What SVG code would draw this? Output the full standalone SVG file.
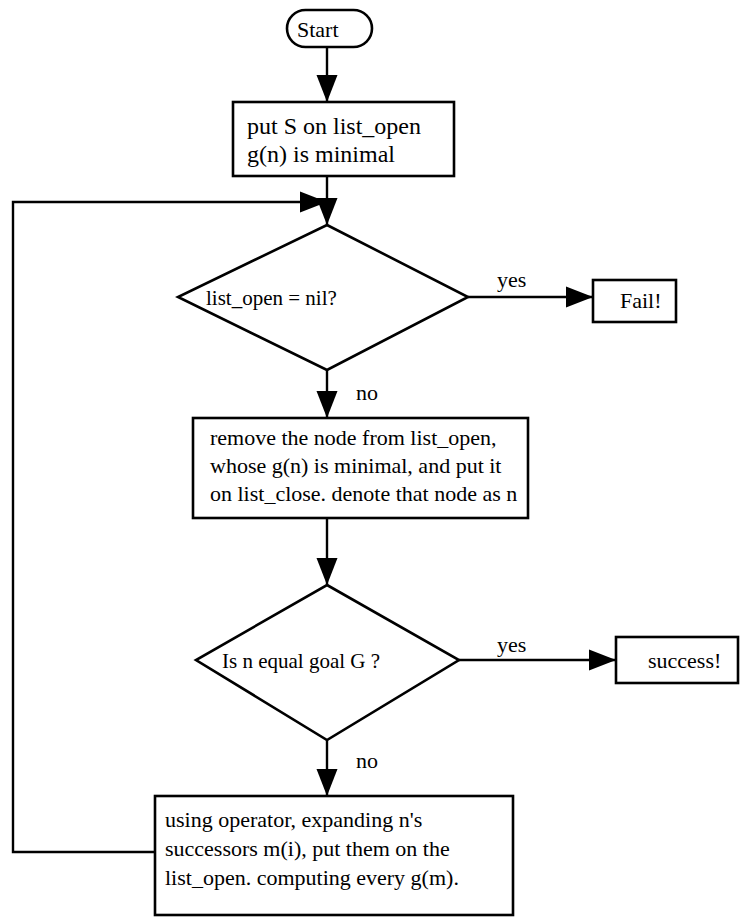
<svg xmlns="http://www.w3.org/2000/svg" width="753" height="923" viewBox="0 0 753 923">
<defs>
<style>
.shape{fill:#fff;stroke:#000;stroke-width:2.6}
.edge{fill:none;stroke:#000;stroke-width:2.4}
.t{font-family:"Liberation Serif","Times New Roman",serif;font-size:22px;fill:#000}
.big{font-size:24px}
.small{font-size:21px}
</style>
<marker id="arr" markerUnits="userSpaceOnUse" markerWidth="28" markerHeight="24" viewBox="0 0 28 24" refX="27" refY="12" orient="auto">
<path d="M0,1.5 L27,12 L0,22.5 Z" fill="#000"/>
</marker>
</defs>
<rect width="753" height="923" fill="#fff"/>
<g id="connectors">
<line class="edge" x1="327" y1="47" x2="327" y2="102" marker-end="url(#arr)"/>
<line class="edge" x1="327" y1="176" x2="327" y2="225" marker-end="url(#arr)"/>
<polyline class="edge" points="155,852 13,852 13,202 327,202" marker-end="url(#arr)"/>
<line class="edge" x1="468" y1="297" x2="593" y2="297" marker-end="url(#arr)"/>
<line class="edge" x1="327" y1="370" x2="327" y2="418" marker-end="url(#arr)"/>
<line class="edge" x1="327" y1="518" x2="327" y2="585" marker-end="url(#arr)"/>
<line class="edge" x1="459" y1="660" x2="616" y2="660" marker-end="url(#arr)"/>
<line class="edge" x1="327" y1="740" x2="327" y2="796" marker-end="url(#arr)"/>
<text class="t" x="497" y="287">yes</text>
<text class="t" x="356" y="400">no</text>
<text class="t" x="497" y="652">yes</text>
<text class="t" x="356" y="768">no</text>
</g>
<g id="start">
<rect class="shape" x="287" y="10" width="85" height="37" rx="18.5"/>
<text class="t" x="297" y="37">Start</text>
</g>
<g id="init">
<rect class="shape" x="233" y="102" width="221" height="74"/>
<text class="t big" x="247" y="134">put S on list_open</text>
<text class="t big" x="247" y="162">g(n) is minimal</text>
</g>
<g id="check-open">
<polygon class="shape" points="327,225 468,297 327,370 178,297"/>
<text class="t small" x="206" y="305">list_open = nil?</text>
</g>
<g id="fail">
<rect class="shape" x="593" y="280" width="83" height="42"/>
<text class="t" x="620" y="308">Fail!</text>
</g>
<g id="remove">
<rect class="shape" x="193" y="418" width="335" height="100"/>
<text class="t" x="210" y="445">remove the node from list_open,</text>
<text class="t" x="210" y="473">whose g(n) is minimal, and put it</text>
<text class="t" x="210" y="501">on list_close. denote that node as n</text>
</g>
<g id="check-goal">
<polygon class="shape" points="327,585 459,660 327,740 196,660"/>
<text class="t small" x="222" y="668">Is n equal goal G ?</text>
</g>
<g id="success">
<rect class="shape" x="616" y="637" width="122" height="46"/>
<text class="t" x="648" y="668">success!</text>
</g>
<g id="expand">
<rect class="shape" x="155" y="796" width="358" height="119"/>
<text class="t" x="165" y="827">using operator, expanding n's</text>
<text class="t" x="165" y="856">successors m(i), put them on the</text>
<text class="t" x="165" y="885">list_open. computing every g(m).</text>
</g>
</svg>
